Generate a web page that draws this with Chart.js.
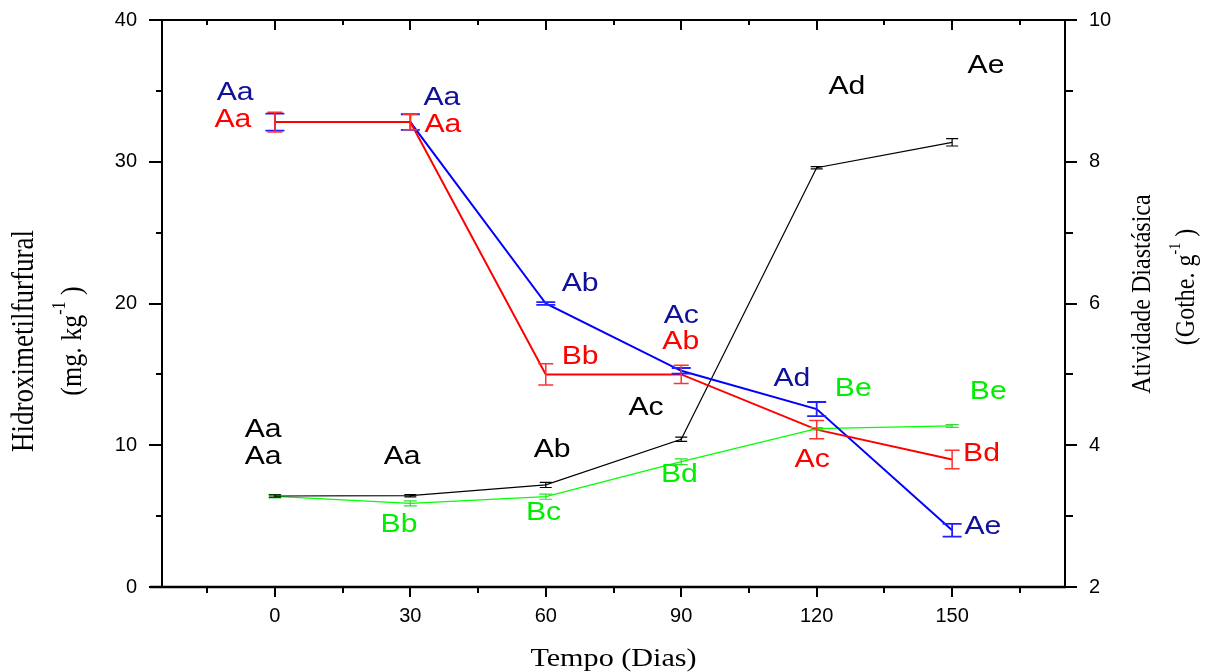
<!DOCTYPE html>
<html><head><meta charset="utf-8">
<script src="https://cdn.jsdelivr.net/npm/chart.js@4/dist/chart.umd.min.js"></script>
<style>html,body{margin:0;padding:0;background:#fff;}#wrap{width:1219px;height:672px;}</style>
</head><body><div id="wrap"><canvas id="c" width="1219" height="672"></canvas></div>
<script>
// ---- data ----
const days = [0, 30, 60, 90, 120, 150];
const xTickValues = [0, 30, 60, 90, 120, 150];
const yLeftTicks = [0, 10, 20, 30, 40];
const yRightTicks = [2, 4, 6, 8, 10];

// HMF (left axis, mg/kg)
const hmfBlack = [6.42, 6.44, 7.20, 10.42, 29.58, 31.37];
const hmfBlackErr = [0.08, 0.08, 0.18, 0.15, 0.08, 0.26];
const hmfGreen = [6.40, 5.90, 6.37, 8.84, 11.17, 11.36];
const hmfGreenErr = [0.12, 0.18, 0.18, 0.20, 0.08, 0.10];

// Diastase activity (right axis, Gothe/g)
const diaRed = [8.56, 8.56, 5.00, 5.00, 4.22, 3.80];
const diaRedErr = [0.14, 0.11, 0.15, 0.13, 0.13, 0.13];
const diaBlue = [8.56, 8.56, 6.00, 5.05, 4.51, 2.80];
const diaBlueErr = [0.12, 0.11, 0.02, 0.04, 0.10, 0.09];

// significance letters
const blackLetters = ['Aa', 'Aa', 'Ab', 'Ac', 'Ad', 'Ae'];
const greenLetters = ['Aa', 'Bb', 'Bc', 'Bd', 'Be', 'Be'];
const redLetters = ['Aa', 'Aa', 'Bb', 'Ab', 'Ac', 'Bd'];
const blueLetters = ['Aa', 'Aa', 'Ab', 'Ac', 'Ad', 'Ae'];

// letter anchor positions (x in days, y in left-axis units)
const blackLetterPos = [[-2.6, 11.27], [28.2, 9.35], [61.4, 9.82], [82.2, 12.78], [126.7, 35.41], [157.5, 36.90]];
const greenLetterPos = [[-2.6, 9.35], [27.5, 4.51], [59.5, 5.40], [89.6, 8.08], [128.1, 14.13], [158.0, 13.90]];
const redLetterPos = [[-9.3, 33.12], [37.2, 32.75], [67.6, 16.42], [89.9, 17.42], [119.0, 9.09], [156.5, 9.58]];
const blueLetterPos = [[-8.8, 35.0], [37.0, 34.67], [67.6, 21.52], [90.0, 19.25], [114.5, 14.86], [156.8, 4.39]];

const xTitle = 'Tempo (Dias)';
const yLeftTitle = 'Hidroximetilfurfural';
const yLeftUnit = ['(mg. kg', '-1', ' )'];
const yRightTitle = 'Atividade Diastásica';
const yRightUnit = ['(Gothe. g', '-1', ' )'];

// ---- drawing ----
const SX = 1.16; // horizontal text stretch
const RED = '#ff0000', BLUE = '#0000ff', GREEN = '#00ff00', BLACK = '#000000', NAVY = '#10109a', LGREEN = '#00ee00';
const greenLetterColors = [BLACK, LGREEN, LGREEN, LGREEN, LGREEN, LGREEN];

function pts(arr) { return days.map((d, i) => ({x: d, y: arr[i]})); }

function drawRich(ctx, parts, cx, cy, rot, size, family) {
  ctx.save();
  ctx.translate(cx, cy);
  ctx.scale(SX, 1);
  ctx.rotate(rot);
  ctx.textBaseline = 'middle';
  ctx.textAlign = 'left';
  const fonts = parts.map((p, i) => (i === 1 ? Math.round(size * 0.6) : size) + 'px ' + family);
  let total = 0;
  parts.forEach((p, i) => { ctx.font = fonts[i]; total += ctx.measureText(p).width; });
  let x = -total / 2;
  parts.forEach((p, i) => {
    ctx.font = fonts[i];
    ctx.fillText(p, x, i === 1 ? -size * 0.42 : 0);
    x += ctx.measureText(p).width;
  });
  ctx.restore();
}

const decor = {
  id: 'decor',
  afterDatasetsDraw(chart) {
    const ctx = chart.ctx;
    const sx = chart.scales.x, yl = chart.scales.y, yr = chart.scales.y1;
    const sets = [
      [hmfGreen, hmfGreenErr, yl, '#33dd33', 6.5, 1.2],
      [hmfBlack, hmfBlackErr, yl, BLACK, 6, 1.2],
      [diaBlue, diaBlueErr, yr, '#2020ff', 9.5, 1.8],
      [diaRed, diaRedErr, yr, '#ff3030', 7.5, 1.5],
    ];
    sets.forEach(([v, e, sc, col, cap, lw]) => {
      ctx.save();
      ctx.strokeStyle = col; ctx.lineWidth = lw;
      days.forEach((d, i) => {
        const px = sx.getPixelForValue(d);
        const y1 = sc.getPixelForValue(v[i] + e[i]);
        const y2 = sc.getPixelForValue(v[i] - e[i]);
        ctx.beginPath();
        ctx.moveTo(px, y1); ctx.lineTo(px, y2);
        ctx.moveTo(px - cap, y1); ctx.lineTo(px + cap, y1);
        ctx.moveTo(px - cap, y2); ctx.lineTo(px + cap, y2);
        ctx.stroke();
      });
      ctx.restore();
    });
  },
  afterDraw(chart) {
    const ctx = chart.ctx;
    const sx = chart.scales.x, yl = chart.scales.y, yr = chart.scales.y1;
    const ca = chart.chartArea;
    ctx.save();
    ctx.strokeStyle = '#000';
    ctx.lineWidth = 2;
    ctx.beginPath();
    ctx.moveTo(ca.left - 12, ca.top); ctx.lineTo(ca.right, ca.top);
    ctx.moveTo(ca.left, ca.top); ctx.lineTo(ca.left, ca.bottom);
    ctx.moveTo(ca.right, ca.top); ctx.lineTo(ca.right, ca.bottom + 1);
    ctx.stroke();
    ctx.lineWidth = 2.5;
    ctx.beginPath();
    ctx.moveTo(ca.left - 12, ca.bottom); ctx.lineTo(ca.right + 1, ca.bottom);
    ctx.stroke();
    ctx.lineWidth = 2;
    ctx.beginPath();
    for (let v = -15; v <= 165; v += 15) {
      const px = Math.round(sx.getPixelForValue(v));
      const major = v % 30 === 0;
      ctx.moveTo(px, ca.bottom); ctx.lineTo(px, ca.bottom + (major ? 10 : 6));
      ctx.moveTo(px, ca.top); ctx.lineTo(px, ca.top + (major ? 10 : 5));
    }
    for (let v = 0; v <= 40; v += 5) {
      const py = Math.round(yl.getPixelForValue(v));
      const major = v % 10 === 0;
      ctx.moveTo(ca.left, py); ctx.lineTo(ca.left - (major ? 13 : 6), py);
    }
    for (let v = 2; v <= 10; v += 1) {
      const py = Math.round(yr.getPixelForValue(v));
      const major = v % 2 === 0;
      ctx.moveTo(ca.right, py); ctx.lineTo(ca.right + (major ? 12 : 8), py);
    }
    ctx.stroke();

    const groups = [
      [blackLetters, blackLetterPos, blackLetters.map(() => BLACK)],
      [greenLetters, greenLetterPos, greenLetterColors],
      [redLetters, redLetterPos, redLetters.map(() => RED)],
      [blueLetters, blueLetterPos, blueLetters.map(() => NAVY)],
    ];
    const size = 26, capH = size * 0.716;
    ctx.font = size + 'px "Liberation Sans", Arial, sans-serif';
    ctx.textAlign = 'center';
    ctx.textBaseline = 'alphabetic';
    groups.forEach(([txt, pos, cols]) => {
      txt.forEach((t, i) => {
        const px = sx.getPixelForValue(pos[i][0]);
        const py = yl.getPixelForValue(pos[i][1]);
        ctx.save();
        ctx.fillStyle = cols[i];
        ctx.translate(px, py);
        ctx.scale(SX, 1);
        ctx.fillText(t, 0, capH / 2);
        ctx.restore();
      });
    });

    ctx.fillStyle = '#000';
    const serif = '"Liberation Serif", "Times New Roman", serif';
    drawRich(ctx, [xTitle], (ca.left + ca.right) / 2, 659, 0, 26, serif);
    drawRich(ctx, [yLeftTitle], 25, 341, -Math.PI / 2, 27, serif);
    drawRich(ctx, yLeftUnit, 73, 341, -Math.PI / 2, 26, serif);
    drawRich(ctx, [yRightTitle], 1143, 294, -Math.PI / 2, 24, serif);
    drawRich(ctx, yRightUnit, 1187, 287, -Math.PI / 2, 24, serif);
    ctx.restore();
  }
};

const tickFont = {family: '"Liberation Sans", Arial, sans-serif', size: 20};

new Chart(document.getElementById('c'), {
  type: 'line',
  data: {
    datasets: [
      {data: pts(diaRed), yAxisID: 'y1', borderColor: RED, borderWidth: 2},
      {data: pts(diaBlue), yAxisID: 'y1', borderColor: BLUE, borderWidth: 2},
      {data: pts(hmfBlack), yAxisID: 'y', borderColor: BLACK, borderWidth: 1.2},
      {data: pts(hmfGreen), yAxisID: 'y', borderColor: GREEN, borderWidth: 1.2},
    ]
  },
  options: {
    responsive: false,
    animation: false,
    elements: {point: {radius: 0, hoverRadius: 0}, line: {tension: 0, fill: false}},
    layout: {autoPadding: false, padding: {top: 20, left: 0, right: 0, bottom: 0}},
    plugins: {legend: {display: false}, tooltip: {enabled: false}},
    scales: {
      x: {
        type: 'linear', position: 'bottom', min: -25, max: 175,
        afterBuildTicks: s => { s.ticks = xTickValues.map(v => ({value: v})); },
        afterFit: s => { s.height = 85; },
        grid: {display: false, drawTicks: true, tickLength: 17}, border: {display: false},
        ticks: {font: tickFont, color: '#000', padding: 0, maxRotation: 0}
      },
      y: {
        type: 'linear', position: 'left', min: 0, max: 40,
        afterBuildTicks: s => { s.ticks = yLeftTicks.map(v => ({value: v})); },
        afterFit: s => { s.width = 162; },
        grid: {display: false, drawTicks: true, tickLength: 25}, border: {display: false},
        ticks: {font: tickFont, color: '#000', padding: 0}
      },
      y1: {
        type: 'linear', position: 'right', min: 2, max: 10,
        afterBuildTicks: s => { s.ticks = yRightTicks.map(v => ({value: v})); },
        afterFit: s => { s.width = 154; },
        grid: {display: false, drawTicks: true, tickLength: 24}, border: {display: false},
        ticks: {font: tickFont, color: '#000', padding: 0}
      }
    }
  },
  plugins: [decor]
});
</script></body></html>
